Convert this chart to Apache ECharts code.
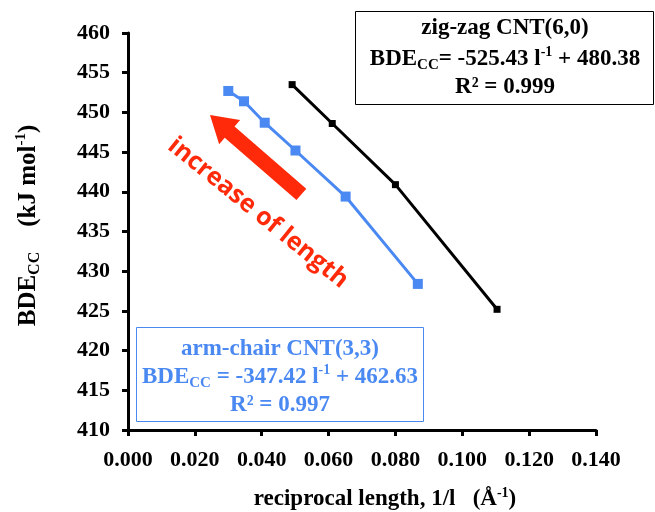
<!DOCTYPE html>
<html>
<head>
<meta charset="utf-8">
<script src="https://cdn.jsdelivr.net/npm/echarts@6/dist/echarts.min.js"></script>
<style>
  html, body { margin: 0; padding: 0; background: #fff; }
  #main { width: 655px; height: 512px; }
</style>
</head>
<body>
<div id="main"></div>
<script>
// data
var zigzagX = [0.0491, 0.0611, 0.0800, 0.1104];
var zigzagY = [453.5, 448.6, 440.9, 425.2];
var armchairX = [0.0300, 0.0347, 0.0409, 0.0501, 0.0651, 0.0867];
var armchairY = [452.7, 451.4, 448.7, 445.2, 439.4, 428.4];

var xTicks = { min: 0, max: 0.14, interval: 0.02 };
var yTicks = { min: 410, max: 460, interval: 5 };

var blue = '#4a88f2';
var red = '#ff2a0a';
var serif = '"Liberation Serif", "Times New Roman", serif';

function pairs(xs, ys) {
    return xs.map(function (x, i) { return [x, ys[i]]; });
}

// rich styles for sub/superscripts
function richSet(color, size) {
    var sub = Math.round(size * 0.65), sup = Math.round(size * 0.6);
    return {
        a: { fontFamily: serif, fontWeight: 'bold', fontSize: size, color: color, fill: color, lineHeight: size + 4 },
        sub: { fontFamily: serif, fontWeight: 'bold', fontSize: sub, color: color, fill: color, verticalAlign: 'bottom', lineHeight: sub },
        sup: { fontFamily: serif, fontWeight: 'bold', fontSize: sup, color: color, fill: color, verticalAlign: 'top', lineHeight: sup }
    };
}

function boxText(cx, cy, txt, color) {
    return {
        type: 'text',
        x: cx,
        y: cy,
        style: {
            text: txt,
            fill: color,
            align: 'center',
            verticalAlign: 'middle',
            rich: richSet(color, 23)
        }
    };
}

var chart = echarts.init(document.getElementById('main'));

var option = {
    backgroundColor: '#fff',
    animation: false,
    grid: { left: 128, right: 59, top: 33, bottom: 82, containLabel: false, outerBoundsMode: 'none' },
    xAxis: {
        type: 'value',
        min: xTicks.min,
        max: xTicks.max,
        interval: xTicks.interval,
        name: '{a|reciprocal length, 1/l   (Å}{sup|-1}{a|)}',
        nameLocation: 'middle',
        nameGap: 56,
        nameTextStyle: { padding: [0, 0, 0, 46], rich: richSet('#000', 23) },
        axisLine: { lineStyle: { color: '#000', width: 3 } },
        axisTick: { length: 6, lineStyle: { color: '#000', width: 3 } },
        axisLabel: {
            margin: 19,
            color: '#000',
            fontFamily: serif,
            fontWeight: 'bold',
            fontSize: 22,
            formatter: function (v) { return v.toFixed(3); }
        },
        splitLine: { show: false }
    },
    yAxis: {
        type: 'value',
        min: yTicks.min,
        max: yTicks.max,
        interval: yTicks.interval,
        name: '{a|BDE}{sub|CC}{a|    (kJ mol}{sup|-1}{a|)}',
        nameLocation: 'middle',
        nameRotate: 90,
        nameGap: 85,
        nameTextStyle: { padding: [0, 0, 0, 12], rich: richSet('#000', 25) },
        axisLine: { show: true, lineStyle: { color: '#000', width: 3 } },
        axisTick: { show: true, length: 6, lineStyle: { color: '#000', width: 3 } },
        axisLabel: {
            margin: 18,
            color: '#000',
            fontFamily: serif,
            fontWeight: 'bold',
            fontSize: 22
        },
        splitLine: { show: false }
    },
    series: [{
        name: 'zig-zag CNT(6,0)',
        type: 'line',
        data: pairs(zigzagX, zigzagY),
        symbol: 'rect',
        symbolSize: 7,
        lineStyle: { color: '#000', width: 3 },
        itemStyle: { color: '#000' }
    }, {
        name: 'arm-chair CNT(3,3)',
        type: 'line',
        data: pairs(armchairX, armchairY),
        symbol: 'rect',
        symbolSize: 10,
        lineStyle: { color: blue, width: 3 },
        itemStyle: { color: blue }
    }],
    graphic: [
        // zig-zag box
        {
            type: 'rect',
            shape: { x: 355.5, y: 11.5, width: 298, height: 93 },
            style: { fill: '#fff', stroke: '#000', lineWidth: 1 }
        },
        boxText(505, 28, '{a|zig-zag CNT(6,0)}', '#000'),
        boxText(505, 59, '{a|BDE}{sub|CC}{a|= -525.43 l}{sup|-1}{a| + 480.38}', '#000'),
        boxText(505, 87, '{a|R² = 0.999}', '#000'),
        // arm-chair box
        {
            type: 'rect',
            shape: { x: 136.5, y: 327.5, width: 287, height: 94 },
            style: { fill: '#fff', stroke: blue, lineWidth: 1 }
        },
        boxText(280, 349, '{a|arm-chair CNT(3,3)}', blue),
        boxText(280, 377, '{a|BDE}{sub|CC}{a| = -347.42 l}{sup|-1}{a| + 462.63}', blue),
        boxText(280, 405, '{a|R² = 0.997}', blue),
        // red arrow
        {
            type: 'polygon',
            x: 210,
            y: 115,
            rotation: -0.715,
            shape: {
                points: [[0, 0], [26, -16], [26, -7.5], [121, -7.5], [121, 7.5], [26, 7.5], [26, 16]]
            },
            style: { fill: red }
        },
        {
            type: 'text',
            x: 258,
            y: 213,
            rotation: -0.68,
            style: {
                text: 'increase of length',
                fill: red,
                font: 'bold 25px "Open Sans", sans-serif',
                align: 'center',
                verticalAlign: 'middle'
            }
        }
    ]
};

chart.setOption(option);
</script>
</body>
</html>
